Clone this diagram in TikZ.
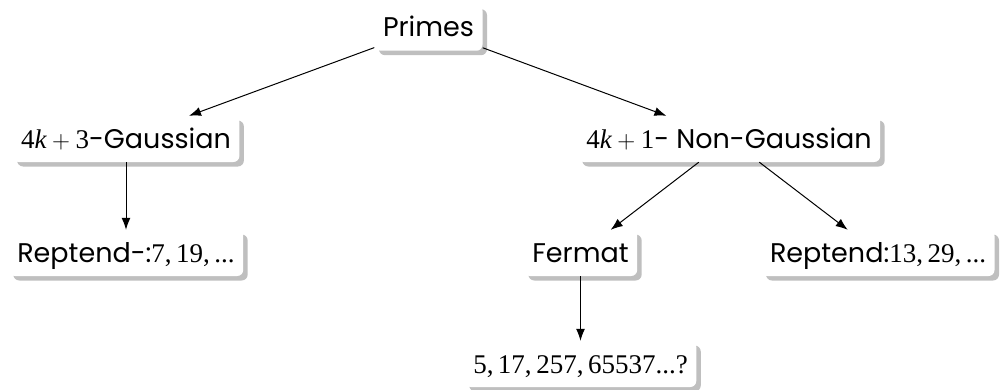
\documentclass[tikz,border=0pt]{standalone}
\usepackage{fontspec}
\setmainfont{Poppins}
\newfontfamily\tm{Liberation Serif}
\usetikzlibrary{arrows.meta,shadows}
% numbers and variables are set in a serif
\newcommand\mth[1]{{\tm #1}}
\newcommand\kvar{{\tm\itshape k}}
\begin{document}
\begin{tikzpicture}[x=1pt,y=-1pt,
  box/.style={fill=white, rounded corners=6pt, inner xsep=8.5pt, inner ysep=8.5pt,
    text height=23.5pt, text depth=5.5pt, anchor=base,
    font=\fontsize{27}{30}\selectfont,
    drop shadow={shadow xshift=4.5pt, shadow yshift=-4.5pt, fill=black!25, opacity=1}},
  link/.style={-{Latex[length=12pt,width=9pt]}, line width=1pt}]
\useasboundingbox (0,0) rectangle (1008,389);

\node[box] (primes) at (428.5,36.7) {Primes};
\node[box] (g3) at (126,148) {\mth{4}\kvar${}+{}$\mth{3}-Gaussian};
\node[box] (g1) at (729,148) {\mth{4}\kvar${}+{}$\mth{1}- Non-Gaussian};
\node[box] (rep3) at (126,262) {Reptend-:\mth{7,\thinspace 19,\thinspace ...}};
\node[box] (fermat) at (580.5,262) {Fermat};
\node[box] (rep1) at (878,262) {Reptend:\mth{13,\thinspace 29,\thinspace ...}};
\node[box] (fp) at (580.5,373) {\mth{5,\thinspace 17,\thinspace 257,\thinspace 65537...?}};

\draw[link] (primes) -- (g3);
\draw[link] (primes) -- (g1);
\draw[link] (g3) -- (rep3);
\draw[link] (g1) -- (fermat);
\draw[link] (g1) -- (rep1);
\draw[link] (fermat) -- (fp);
\end{tikzpicture}
\end{document}
